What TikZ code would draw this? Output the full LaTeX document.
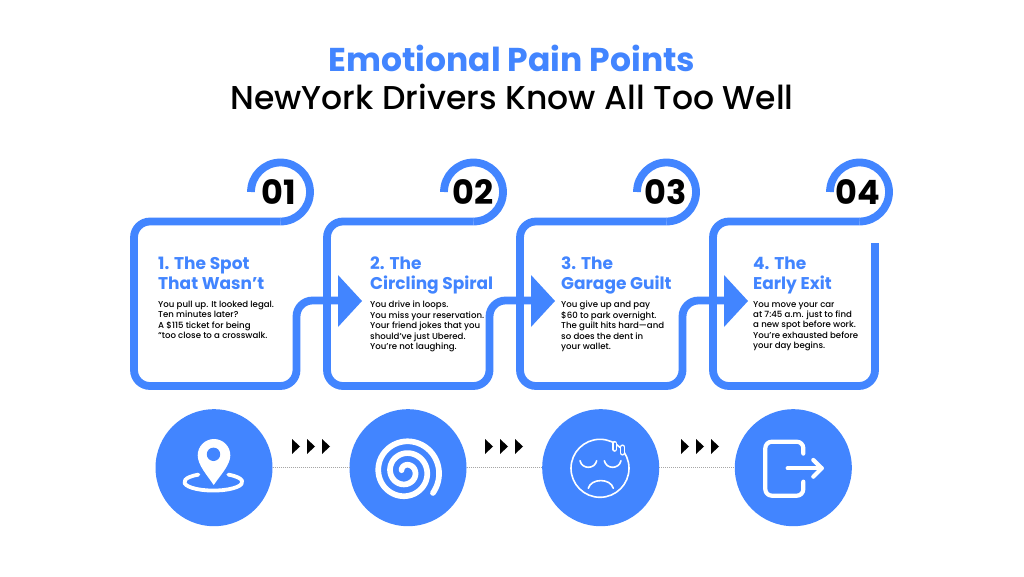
\documentclass[tikz,border=0pt]{standalone}
\usepackage{fontspec}
\setmainfont{Poppins}[UprightFont=*-Medium,BoldFont=*-SemiBold]
\newfontfamily\headfont{Poppins Bold}
\definecolor{bl}{HTML}{4285FF}
\tikzset{
 x=1pt,y=-1pt,
 flowbase/.style={draw=bl,line width=7.8pt},
 flow/.style={flowbase,rounded corners=16pt},
 arrowhd/.style={fill=bl,draw=none},
 headtxt/.style={anchor=north west,inner sep=0pt,align=left,text=bl,font=\fontsize{17}{20}\selectfont\headfont},
 bodytxt/.style={anchor=north west,inner sep=0pt,align=left,text=black,font=\fontsize{8.6}{10.4}\selectfont},
 numtxt/.style={inner sep=0pt,text=black,font=\fontsize{33.5}{34}\selectfont\headfont},
 disc/.style={circle,fill=bl,draw=none,minimum size=117pt,inner sep=0pt},
 dots/.style={draw=black!35,line width=1.1pt,dash pattern=on 1pt off 1pt},
 tri/.style={fill=black,draw=none},
 ico/.style={draw=white,line cap=round,line join=round},
}
\newcommand{\seg}[1]{%
 \begin{scope}[xshift=#1pt]
 \draw[flowbase] (251,192) arc[start angle=180,end angle=-90,radius=29.5pt];
 \draw[flow] (280.5,221.5) -- (134,221.5) -- (134,386) -- (296.5,386) -- (296.5,300.5) -- (345,300.5);
 \fill[arrowhd] (338,275) -- (362,301) -- (338,327) -- cycle;
 \end{scope}}
\newcommand{\tris}[1]{%
 \foreach \d in {0,15,30}{\fill[tri] ({#1+\d},439) -- ({#1+\d+8},446.5) -- ({#1+\d},454) -- cycle;}}
\begin{document}
\begin{tikzpicture}
\useasboundingbox[fill=white] (0,0) rectangle (1024,577);
\node[text=bl,inner sep=0pt,font=\fontsize{33}{33}\selectfont\headfont] (t1) at (512,58) {Emotional Pain Points};
\node[text=black,inner sep=0pt,font=\fontsize{33}{33}\selectfont] (t2) at (512,97) {NewYork Drivers Know All Too Well};
\seg{0} \seg{193} \seg{386}
\draw[flowbase] (830,192) arc[start angle=180,end angle=-90,radius=29.5pt];
\draw[flow] (859.5,221.5) -- (713,221.5) -- (713,386) -- (875,386) -- (875,243);
\node[numtxt] (n1) at (279,192) {01};
\node[numtxt] (n2) at (473,192) {02};
\node[numtxt] (n3) at (666,192) {03};
\node[numtxt] (n4) at (858,192) {04};
\node[headtxt] (h1) at (158,257) {1. The Spot\\That Wasn’t};
\node[headtxt] (h2) at (370,257) {2. The\\Circling Spiral};
\node[headtxt] (h3) at (561,257) {3. The\\Garage Guilt};
\node[headtxt] (h4) at (753,257) {4. The\\Early Exit};
\node[bodytxt] (b1) at (158,301) {You pull up. It looked legal.\\Ten minutes later?\\A \$115 ticket for being\\“too close to a crosswalk.};
\node[bodytxt] (b2) at (370,301) {You drive in loops.\\You miss your reservation.\\Your friend jokes that you\\should’ve just Ubered.\\You’re not laughing.};
\node[bodytxt] (b3) at (561,301) {You give up and  pay\\\$60 to park overnight.\\The guilt hits hard—and\\so does the dent in\\your wallet.};
\node[bodytxt] (b4) at (753,301) {You move your car\\at 7:45 a.m. just to find\\a new spot before work.\\You’re exhausted before\\your day begins.};
\node[disc] (c1) at (214,467.7) {};
\node[disc] (c2) at (408,467.7) {};
\node[disc] (c3) at (600.7,467.7) {};
\node[disc] (c4) at (793.3,467.7) {};
\draw[dots] (c1) -- (c2);
\draw[dots] (c2) -- (c3);
\draw[dots] (c3) -- (c4);
\tris{292} \tris{485} \tris{681}
% pin icon
\fill[white] (213.7,485) .. controls (207,475) and (197.7,465) .. (197.7,455.3) arc[start angle=180,end angle=0,radius=16.3pt] .. controls (230.3,465) and (220.5,475) .. (213.7,485) -- cycle;
\fill[bl] (213.5,454.3) circle[radius=6.7pt];
\draw[ico,line width=3.8pt] (198.4,474.6) arc[start angle=121,end angle=419,x radius=29pt,y radius=8.6pt];
% spiral icon
\draw[ico,line width=5.7pt] plot[domain=-38:880,samples=200] ({405.7+(33.3-0.0329*\x)*cos(\x)},{471.7-(33.3-0.0329*\x)*sin(\x)});
% face icon
\draw[ico,line width=1.6pt] (600,468.3) circle[radius=29pt];
\draw[ico,line width=1.6pt] (580,460.7) .. controls (582,469.5) and (594.7,469.5) .. (596.7,460.7);
\draw[ico,line width=1.6pt] (604.3,460.7) .. controls (606.3,469.5) and (619,469.5) .. (621,460.7);
\draw[ico,line width=1.6pt] (588.3,488.3) .. controls (591,478) and (610.6,478) .. (613.3,488.3);
\draw[ico,line width=5.2pt] (614.8,443.5) -- (614.8,449.2);
\draw[bl,line cap=round,line width=2.4pt] (614.8,443.5) -- (614.8,449.2);
\draw[ico,line width=5.2pt] (622.5,447) -- (622.5,453);
\draw[bl,line cap=round,line width=2.4pt] (622.5,447) -- (622.5,453);
% exit icon
\draw[ico,line width=4.2pt,rounded corners=6.5pt] (803.3,453.6) -- (803.3,441.7) -- (765.3,441.7) -- (765.3,495.7) -- (803.3,495.7) -- (803.3,481.7);
\draw[ico,line width=4.2pt] (787.7,468.3) -- (821.7,468.3);
\draw[ico,line width=4.2pt] (813.3,460) -- (821.7,468.3) -- (813.3,476.7);
\end{tikzpicture}
\end{document}
